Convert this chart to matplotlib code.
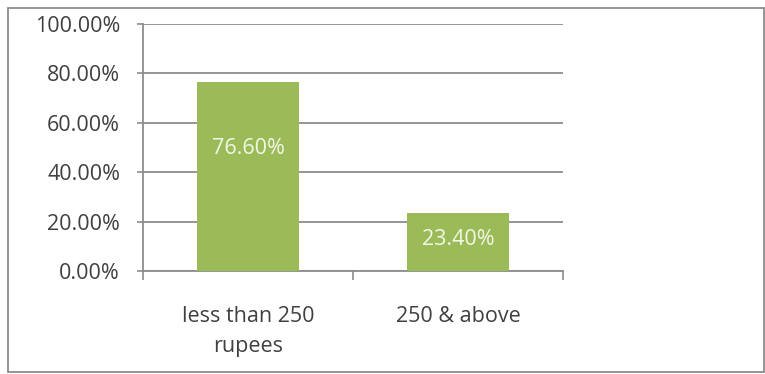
import matplotlib
matplotlib.use("Agg")
import matplotlib.pyplot as plt
from matplotlib.patches import Rectangle
from matplotlib.ticker import FuncFormatter, FixedLocator

categories = ["less than 250\nrupees", "250 & above"]
values = [76.60, 23.40]
yticks = [0, 20, 40, 60, 80, 100]

plt.rcParams['font.family'] = ['Open Sans', 'DejaVu Sans']

W, H = 765, 374
fig = plt.figure(figsize=(W / 100, H / 100), dpi=100)
ax = fig.add_axes([143 / W, 1 - 271 / H, (563 - 143) / W, (271 - 24) / H])

x = list(range(len(categories)))
ax.bar(x, values, width=0.49, color="#9BBB59", zorder=3)
ax.set_xlim(-0.5, len(categories) - 0.5)
ax.set_ylim(0, 100)

# data labels
label_pos = [0.65, 0.55]
for xi, v, f in zip(x, values, label_pos):
    ax.text(xi, v * f, f"{v:.2f}%", ha="center", va="center",
            color="#F2F7E6", fontsize=15.5, zorder=4)

ax.yaxis.set_major_locator(FixedLocator(yticks))
ax.yaxis.set_major_formatter(FuncFormatter(lambda v, p: f"{v:.2f}%"))
ax.grid(axis="y", color="#8C8C8C", linewidth=1.3, zorder=0)
ax.set_axisbelow(True)

ax.set_xticks(x)
ax.set_xticklabels(categories, linespacing=1.55)
ax.xaxis.set_minor_locator(FixedLocator([-0.5, 0.5, 1.5]))
ax.tick_params(axis="x", which="major", length=0, pad=25, labelsize=15.5, labelcolor="#404040")
ax.tick_params(axis="x", which="minor", length=6.5, color="#8C8C8C", width=1.2)
ax.tick_params(axis="y", length=4.5, color="#8C8C8C", width=1.2, labelsize=15.5,
               labelcolor="#404040", pad=12)

for s in ["top", "right"]:
    ax.spines[s].set_visible(False)
for s in ["left", "bottom"]:
    ax.spines[s].set_color("#8C8C8C")
    ax.spines[s].set_linewidth(1.3)

# outer chart border
fig.patches.append(Rectangle((8 / W, 2 / H), (W - 9) / W, (H - 10) / H,
                             transform=fig.transFigure, fill=False,
                             edgecolor="#8C8C8C", linewidth=1.3))

fig.savefig("out.png", dpi=100)
